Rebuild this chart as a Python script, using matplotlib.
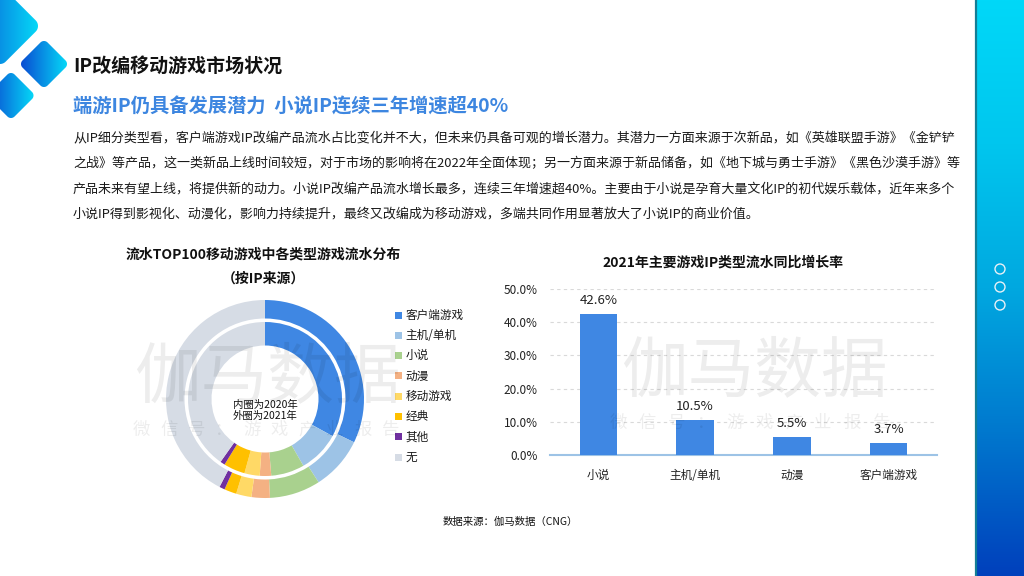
import numpy as np
import matplotlib
matplotlib.use('Agg')
import matplotlib.pyplot as plt
from matplotlib.patches import Polygon, Circle, Rectangle
from matplotlib.colors import LinearSegmentedColormap

plt.rcParams['font.family'] = ['Noto Sans CJK SC', 'DejaVu Sans']

# ---------------- data ----------------
ring_labels = ['客户端游戏', '主机/单机', '小说', '动漫', '移动游戏', '经典', '其他', '无']
share_2020 = [33.0, 8.7, 7.0, 2.4, 3.2, 4.5, 1.0, 40.2]   # inner ring
share_2021 = [32.2, 8.7, 8.3, 3.0, 2.5, 2.0, 0.9, 42.4]   # outer ring
ring_colors = ['#3F87E3', '#9DC3E6', '#A9D18E', '#F4B183', '#FFD966', '#FFC000', '#7030A0', '#D6DCE5']

growth_cats = ['小说', '主机/单机', '动漫', '客户端游戏']
growth_vals = [42.6, 10.5, 5.5, 3.7]
growth_ticks = [0, 10, 20, 30, 40, 50]

title_text = 'IP改编移动游戏市场状况'
subtitle_text = '端游IP仍具备发展潜力  小说IP连续三年增速超40%'
body_lines = [
    '从IP细分类型看，客户端游戏IP改编产品流水占比变化并不大，但未来仍具备可观的增长潜力。其潜力一方面来源于次新品，如《英雄联盟手游》《金铲铲',
    '之战》等产品，这一类新品上线时间较短，对于市场的影响将在2022年全面体现；另一方面来源于新品储备，如《地下城与勇士手游》《黑色沙漠手游》等',
    '产品未来有望上线，将提供新的动力。小说IP改编产品流水增长最多，连续三年增速超40%。主要由于小说是孕育大量文化IP的初代娱乐载体，近年来多个',
    '小说IP得到影视化、动漫化，影响力持续提升，最终又改编成为移动游戏，多端共同作用显著放大了小说IP的商业价值。',
]
pie_title_lines = ['流水TOP100移动游戏中各类型游戏流水分布', '（按IP来源）']
pie_center_lines = ['内圈为2020年', '外圈为2021年']
bar_title = '2021年主要游戏IP类型流水同比增长率'
source_text = '数据来源：伽马数据（CNG）'
wm_main = '伽马数据'
wm_sub = '微信号：游戏产业报告'

# ---------------- figure ----------------
W, H = 1024, 576
fig = plt.figure(figsize=(W / 100, H / 100), dpi=100)
fig.patch.set_facecolor('white')

bg = fig.add_axes([0, 0, 1, 1])
bg.axis('off')


def px_axes(l, t, w, h, **kw):
    return fig.add_axes([l / W, 1 - (t + h) / H, w / W, h / H], **kw)


# right decorative band
band_cmap = LinearSegmentedColormap.from_list(
    'band', ['#00D8F8', '#00C6EE', '#00A8E0', '#0078CE', '#0040BC'])
grad_v = np.linspace(0, 1, 256).reshape(-1, 1)
bg.imshow(grad_v, cmap=band_cmap, extent=[975, W, H, 0], aspect='auto', zorder=1)
bg.plot([975.8, 975.8], [0, H], color='#137E96', lw=1.6, zorder=2)
for cy in (269, 287, 305):
    bg.add_patch(Circle((1000, cy), 5, fill=False, ec='#E8F0F6', lw=1.0, zorder=3))

# top-left rounded diamonds
dia_cmap = LinearSegmentedColormap.from_list('dia', ['#0A4CD2', '#05D8F7'])
grad_h = np.linspace(0, 1, 256).reshape(1, -1)


def rounded_diamond(cx, cy, d, r, n=14):
    k = (d - r) / np.sqrt(2)
    pts = []
    for (sx, sy), a0 in zip([(1, 1), (-1, 1), (-1, -1), (1, -1)], [0, 90, 180, 270]):
        t = np.radians(np.linspace(a0, a0 + 90, n))
        xs = sx * k + r * np.cos(t)
        ys = sy * k + r * np.sin(t)
        pts.extend(zip(xs, ys))
    pts = np.array(pts)
    xr = (pts[:, 0] - pts[:, 1]) / np.sqrt(2) + cx
    yr = (pts[:, 0] + pts[:, 1]) / np.sqrt(2) + cy
    return np.column_stack([xr, yr])


for cx, cy, d, r in [(0, 26, 38, 8), (44, 64, 23, 5), (11, 95.5, 22.5, 5)]:
    poly = Polygon(rounded_diamond(cx, cy, d, r), closed=True, fc='none', ec='none')
    bg.add_patch(poly)
    im = bg.imshow(grad_h, cmap=dia_cmap, extent=[cx - d, cx + d, cy + d, cy - d],
                   aspect='auto', zorder=2)
    im.set_clip_path(poly)

# texts
bg.text(73, 66, title_text, fontsize=13.7, fontweight='bold', ha='left', va='center',
        color='#111111')
bg.text(73, 107, subtitle_text, fontsize=13.9, fontweight='bold', ha='left', va='center',
        color='#3D86E0')
for i, ln in enumerate(body_lines):
    bg.text(73, 138 + i * 25.3, ln, fontsize=9.37, ha='left', va='center', color='#1A1A1A')
for j, ln in enumerate(pie_title_lines):
    bg.text(263, 255 + j * 24, ln, fontsize=10, fontweight='bold', ha='center', va='center',
            color='#111111')
bg.text(723, 263, bar_title, fontsize=10, fontweight='bold', ha='center', va='center',
        color='#111111')
bg.text(510, 522, source_text, fontsize=7.5, ha='center', va='center', color='#111111')

# manual legend for rings
for i, (lab, col) in enumerate(zip(ring_labels, ring_colors)):
    y = 315 + i * 20.3
    bg.add_patch(Rectangle((395, y - 3.5), 7, 7, color=col, lw=0, zorder=3))
    bg.text(405.5, y, lab, fontsize=8.4, ha='left', va='center', color='#1A1A1A')

bg.set_xlim(0, W)
bg.set_ylim(H, 0)

# ---------------- donut ----------------
pax = px_axes(165, 299, 200, 200)
pax.pie(share_2021, radius=0.99, colors=ring_colors, startangle=90, counterclock=False,
        wedgeprops=dict(width=0.185, linewidth=0))
pax.pie(share_2020, radius=0.77, colors=ring_colors, startangle=90, counterclock=False,
        wedgeprops=dict(width=0.235, linewidth=0))
pax.set_xlim(-1, 1)
pax.set_ylim(-1, 1)
pax.set_aspect('equal')
pax.axis('off')
pax.text(0, -0.11, '\n'.join(pie_center_lines), fontsize=7.5, ha='center', va='center',
         linespacing=1.12, color='#111111')

# ---------------- bar chart ----------------
bax = px_axes(550, 289, 387, 166)
x = np.arange(len(growth_cats))
bax.bar(x, growth_vals, width=0.39, color='#3F87E3', zorder=3)
bax.set_xlim(-0.5, len(growth_cats) - 0.5)
bax.set_ylim(0, 50)
bax.set_yticks(growth_ticks)
bax.set_yticklabels([f'{v:.1f}%' for v in growth_ticks])
bax.set_xticks(x)
bax.set_xticklabels(growth_cats)
bax.yaxis.grid(True, linestyle=(0, (3, 3)), color='#D9D9D9', lw=0.8)
bax.set_axisbelow(True)
for s in ('top', 'right', 'left'):
    bax.spines[s].set_visible(False)
bax.spines['bottom'].set_color('#9DC3E6')
bax.spines['bottom'].set_linewidth(1.5)
bax.tick_params(axis='y', length=0, pad=9, labelsize=8.5, labelcolor='#222222')
bax.tick_params(axis='x', length=0, pad=10, labelsize=8.4, labelcolor='#222222')
bax.patch.set_alpha(0)
for xi, v in zip(x, growth_vals):
    bax.annotate(f'{v:.1f}%', (xi, v), xytext=(0, 5), textcoords='offset points',
                 ha='center', va='bottom', fontsize=9.5, color='#222222')

# ---------------- watermark overlay ----------------
wm = fig.add_axes([0, 0, 1, 1], zorder=10)
wm.set_xlim(0, W)
wm.set_ylim(H, 0)
wm.axis('off')
wm.patch.set_alpha(0)
for cxm, cym, cys, x0, step in [(267, 378, 430, 141, 27.7), (754, 372, 423, 618, 29.3)]:
    wm.text(cxm, cym, wm_main, fontsize=48, fontweight='light', ha='center', va='center',
            color='black', alpha=0.07)
    for k, ch in enumerate(wm_sub):
        wm.text(x0 + k * step, cys, ch, fontsize=12.5, ha='center', va='center',
                color='black', alpha=0.07)

fig.savefig('out.png', dpi=100)
